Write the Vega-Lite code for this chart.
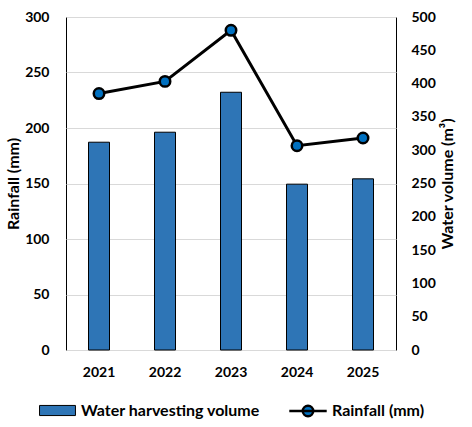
{
  "$schema": "https://vega.github.io/schema/vega-lite/v6.json",
  "width": 330,
  "height": 333,
  "autosize": "none",
  "padding": {"left": 66, "top": 17, "right": 76, "bottom": 77},
  "config": {
    "font": "Lato",
    "view": {"stroke": "black", "strokeWidth": 1},
    "axis": {
      "labelFont": "Lato",
      "labelFontWeight": "bold",
      "labelFontSize": 14,
      "labelColor": "black",
      "titleFont": "Lato",
      "titleFontWeight": "bold",
      "titleFontSize": 16,
      "titleColor": "black",
      "ticks": false,
      "domain": false,
      "gridColor": "#D9D9D9",
      "gridWidth": 1
    },
    "legend": {
      "orient": "bottom",
      "direction": "horizontal",
      "offset": 12,
      "labelFont": "Lato",
      "labelFontSize": 16,
      "labelFontWeight": "bold",
      "labelColor": "black",
      "labelOffset": 4,
      "labelLimit": 300,
      "symbolSize": 1400,
      "symbolOpacity": 1,
      "layout": {"bottom": {"anchor": "middle", "direction": "horizontal", "margin": 28}}
    }
  },
  "data": {
    "values": [
      {"year": "2021", "volume": 312, "rainfall": 231},
      {"year": "2022", "volume": 327, "rainfall": 242},
      {"year": "2023", "volume": 387, "rainfall": 288},
      {"year": "2024", "volume": 249, "rainfall": 184},
      {"year": "2025", "volume": 257, "rainfall": 191}
    ]
  },
  "encoding": {
    "x": {
      "field": "year",
      "type": "ordinal",
      "axis": {"title": null, "labelAngle": 0, "labelPadding": 15, "grid": false}
    }
  },
  "layer": [
    {
      "mark": {"type": "bar", "width": 21, "stroke": "black", "strokeWidth": 1},
      "encoding": {
        "y": {
          "field": "volume",
          "type": "quantitative",
          "scale": {"domain": [0, 500]},
          "axis": {
            "orient": "right",
            "title": "Water volume (m³)",
            "titleAngle": 270,
            "tickCount": 10,
            "grid": false,
            "labelPadding": 15,
            "titlePadding": 20
          }
        },
        "fill": {
          "datum": "Water harvesting volume",
          "scale": {"range": ["#2E75B6"]},
          "legend": {
            "title": null,
            "symbolType": "M-0.96,-0.27H0.96V0.27H-0.96Z",
            "symbolStrokeColor": "black",
            "symbolStrokeWidth": 1
          }
        }
      }
    },
    {
      "encoding": {
        "y": {
          "field": "rainfall",
          "type": "quantitative",
          "scale": {"domain": [0, 300]},
          "axis": {
            "orient": "left",
            "title": "Rainfall (mm)",
            "tickCount": 6,
            "grid": true,
            "labelPadding": 17,
            "titlePadding": 3
          }
        }
      },
      "layer": [
        {
          "mark": {"type": "line", "strokeWidth": 3},
          "encoding": {
            "stroke": {
              "datum": "Rainfall (mm)",
              "scale": {"range": ["black"]},
              "legend": {
                "title": null,
                "symbolType": "M-1,0H1M0.28,0A0.28,0.28,0,1,1,-0.28,0A0.28,0.28,0,1,1,0.28,0Z",
                "symbolFillColor": "#0070C0",
                "symbolStrokeWidth": 2.5
              }
            }
          }
        },
        {
          "mark": {
            "type": "point",
            "filled": true,
            "fill": "#0070C0",
            "stroke": "black",
            "strokeWidth": 2.5,
            "size": 110,
            "opacity": 1
          }
        }
      ]
    }
  ],
  "resolve": {"scale": {"y": "independent"}}
}
